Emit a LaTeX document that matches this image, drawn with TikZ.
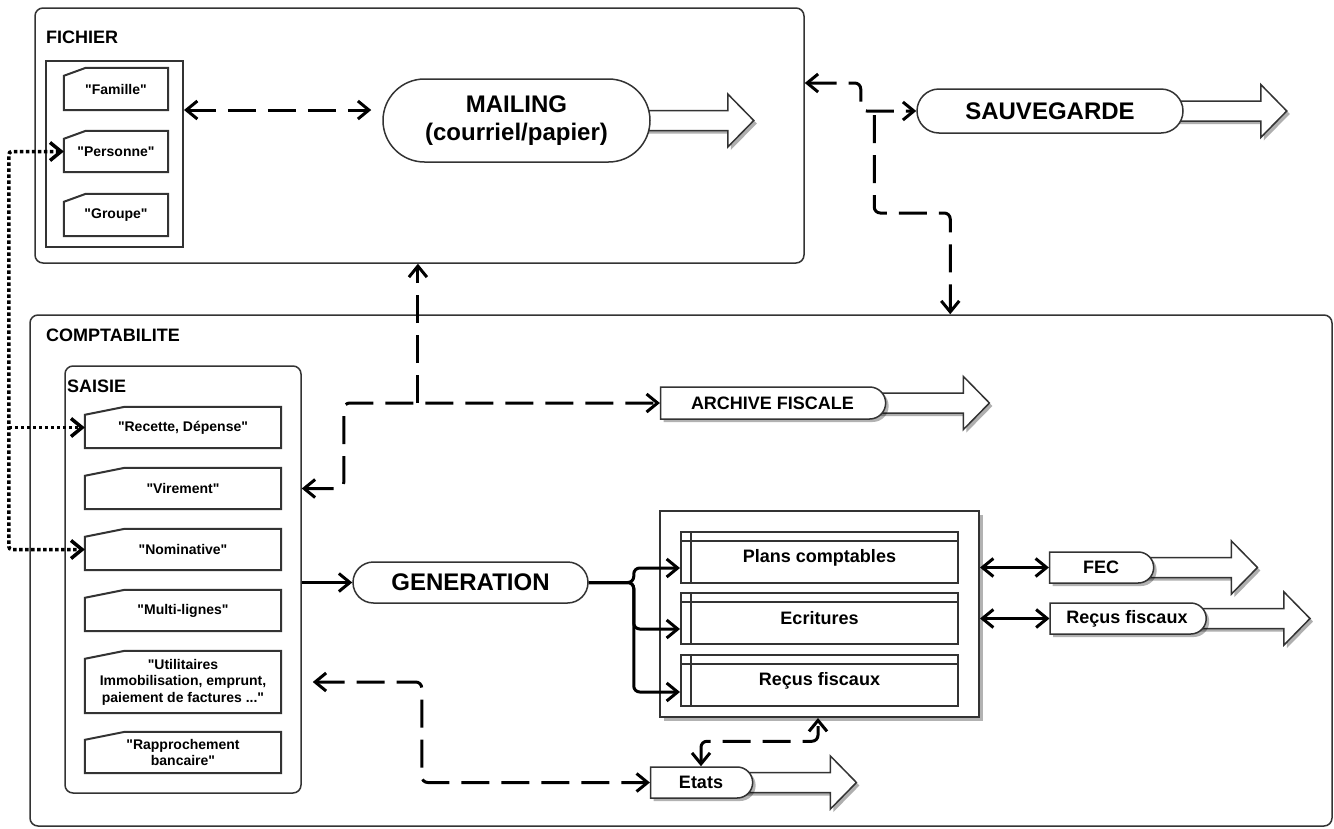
\documentclass[tikz,border=0pt]{standalone}
\usepackage{fontspec}
\setmainfont{Liberation Sans}[Ligatures=TeXOff]
\usetikzlibrary{arrows.meta,shapes.misc,shadows,calc}
\pgfdeclarelayer{bg}
\pgfsetlayers{bg,main}
\definecolor{bd}{RGB}{51,51,51}
\definecolor{shd}{RGB}{175,175,175}
\newcommand\fsm{\fontsize{14}{16.5}\selectfont\bfseries}
\newcommand\fmd{\fontsize{18}{21}\selectfont\bfseries}
\newcommand\fbg{\fontsize{24}{28}\selectfont\bfseries}
\def\bapath{++(0,-10) -- ++(87,0) -- ++(0,-16.5) -- ++(26,26.5) -- ++(-26,26.5) -- ++(0,-16.5) -- ++(-87,0) -- cycle}
\newcommand\blockarrow[1]{%
  \fill[shd] ([xshift=-7pt,yshift=-3pt]#1.east) \bapath;
  \draw[bd, line width=1.5pt, fill=white] ([xshift=-10pt]#1.east) \bapath;}
\newcommand\cardshape[2]{%
  \draw[bd, line width=2pt] ([yshift=-8pt]#1.north west) -- ([xshift=#2]#1.north west) -- (#1.north east) -- (#1.south east) -- (#1.south west) -- cycle;}
\newcommand\itabshape[1]{%
  \draw[bd, line width=2pt] ([yshift=-10pt]#1.north west) -- ([yshift=-10pt]#1.north east);
  \draw[bd, line width=2pt] ([xshift=11pt]#1.north west) -- ([xshift=11pt]#1.south west);}
\begin{document}
\begin{tikzpicture}[x=1pt,y=-1pt,
  cont/.style={draw=bd, line width=1.5pt, rounded corners=8pt, inner sep=0pt},
  lbl/.style={inner sep=0pt, anchor=west, font=\fmd},
  cardtxt/.style={inner sep=0pt, minimum width=#1, minimum height=41pt, align=center, font=\fsm},
  pill/.style={rounded rectangle, draw=bd, line width=1.5pt, fill=white, inner sep=0pt},
  dshape/.style={rounded rectangle, rounded rectangle left arc=none, draw=bd, line width=1.5pt, fill=white, inner sep=0pt, font=\fmd,
    drop shadow={shadow xshift=3pt, shadow yshift=-3pt, fill=black, opacity=.3}},
  itab/.style={draw=bd, line width=2pt, fill=white, minimum width=277pt, minimum height=51pt, inner sep=0pt, font=\fmd},
  conn/.style={line width=3pt, black, rounded corners=6pt, >={Straight Barb[length=11pt,width=18pt]}},
  dashconn/.style={conn, dash pattern=on 28pt off 12pt},
  dotconn/.style={conn, line width=3.5pt, dash pattern=on 3.5pt off 2.5pt, rounded corners=3pt},
  solconn/.style={conn}]
\useasboundingbox (0,0) rectangle (1334,828);
\begin{pgfonlayer}{bg}
\fill[white] (0,0) rectangle (1334,828);
\end{pgfonlayer}

% containers
\node[cont, minimum width=769pt, minimum height=255pt] (fichier) at (419.5,135.5) {};
\node[cont, minimum width=1302pt, minimum height=511pt] (compta) at (681,570.5) {};
\node[draw=bd, line width=2pt, minimum width=137pt, minimum height=186pt, inner sep=0pt] (flist) at (114.5,154) {};
\node[cont, minimum width=236pt, minimum height=427pt] (saisie) at (183,579.5) {};

\node[lbl] (tfichier) at (46,37) {FICHIER};
\node[lbl] (tcompta) at (46,335) {COMPTABILITE};
\node[lbl] (tsaisie) at (67,386) {SAISIE};

% fichier cards
\node[cardtxt=104pt, minimum height=42pt] (famille) at (116,89) {"Famille"};
\node[cardtxt=104pt, minimum height=41pt] (personne) at (116,151.5) {"Personne"};
\node[cardtxt=104pt, minimum height=42pt] (groupe) at (116,215) {"Groupe"};
\cardshape{famille}{22pt}
\cardshape{personne}{22pt}
\cardshape{groupe}{22pt}

% saisie cards
\node[cardtxt=196pt] (recette) at (183,427.5) {"Recette, Dépense"};
\node[cardtxt=196pt] (virement) at (183,488.5) {"Virement"};
\node[cardtxt=196pt] (nominative) at (183,549.5) {"Nominative"};
\node[cardtxt=196pt] (multi) at (183,610.5) {"Multi-lignes"};
\node[cardtxt=196pt, minimum height=62pt] (util) at (183,682) {"Utilitaires\\Immobilisation, emprunt,\\paiement de factures ..."};
\node[cardtxt=196pt] (rappro) at (183,752.5) {"Rapprochement\\bancaire"};
\foreach \c in {recette,virement,nominative,multi,util,rappro}{\cardshape{\c}{40pt}}

% pills
\node[pill, minimum width=267pt, minimum height=83pt, font=\fbg, align=center] (mailing) at (516.5,120.5) {MAILING\\(courriel/papier)};
\node[pill, minimum width=266pt, minimum height=44pt, font=\fbg] (sauv) at (1050,111) {SAUVEGARDE};
\node[pill, minimum width=235pt, minimum height=41pt, font=\fbg] (gen) at (470.5,582.5) {GENERATION};

% D-shapes
\node[dshape, minimum width=225pt, minimum height=32pt] (archive) at (772.5,403) {ARCHIVE FISCALE};
\node[dshape, minimum width=102pt, minimum height=31pt] (etats) at (701,782.5) {Etats};
\node[dshape, minimum width=104pt, minimum height=31pt] (fec) at (1101,567.5) {FEC};
\node[dshape, minimum width=156pt, minimum height=31pt] (recus2) at (1127,618.5) {Reçus fiscaux};

% table
\node[draw=bd, line width=2pt, fill=white, minimum width=319pt, minimum height=206pt, inner sep=0pt,
  drop shadow={shadow xshift=4pt, shadow yshift=-4pt, fill=black, opacity=.3}] (tbl) at (819.5,614) {};
\node[itab] (plans) at (819.5,557.5) {Plans comptables};
\node[itab] (ecr) at (819.5,618.5) {Ecritures};
\node[itab] (recus) at (819.5,680.5) {Reçus fiscaux};
\itabshape{plans}
\itabshape{ecr}
\itabshape{recus}

% block arrows
\begin{pgfonlayer}{bg}
\blockarrow{mailing}
\blockarrow{sauv}
\blockarrow{archive}
\blockarrow{etats}
\blockarrow{fec}
\blockarrow{recus2}
\end{pgfonlayer}

% dotted connectors
\draw[dotconn, <->] (personne.west) -- ++(-55,0) |- (nominative.west);
\draw[dotconn, ->] ([xshift=-76pt]recette.west) -- (recette.west);

% dashed connectors
\draw[dashconn, <->] ([yshift=44pt]flist.east) -- ([xshift=-11pt,yshift=10.5pt]mailing.west);
\draw[dashconn, <->] ([yshift=52.5pt]fichier.east) -- ++(56,0) |- (sauv.west);
\coordinate (js) at ([xshift=-42pt,yshift=-4pt]sauv.west);
\draw[dashconn, ->] (js) -- ++(0,98) -| ([xshift=921pt]compta.north west);
\draw[dashconn, <->] (saisie.east |- virement) -- ++(42,0) |- (archive.west);
\coordinate (ja) at ([xshift=-242pt]archive.west);
\draw[dashconn, ->] (ja) -- (ja |- fichier.south);
\draw[dashconn, <->] ([xshift=11pt]saisie.east |- util) -- ++(109,0) |- (etats.west);
\draw[dashconn, <->] (etats.north) -- ++(0,-25) -| ([xshift=-1.5pt]tbl.south);

% solid connectors
\draw[solconn, ->] (saisie.east |- gen) -- (gen.west);
\draw[solconn, ->] (gen.east) -- ++(45,0) |- ([yshift=-10.5pt]plans.west);
\draw[solconn, ->] (gen.east) -- ++(45,0) |- ([yshift=-10.5pt]ecr.west);
\draw[solconn, ->] (gen.east) -- ++(45,0) |- ([yshift=-11.5pt]recus.west);
\draw[solconn, <->] (tbl.east |- fec.west) -- (fec.west);
\draw[solconn, <->] (tbl.east |- recus2.west) -- (recus2.west);
\end{tikzpicture}
\end{document}
